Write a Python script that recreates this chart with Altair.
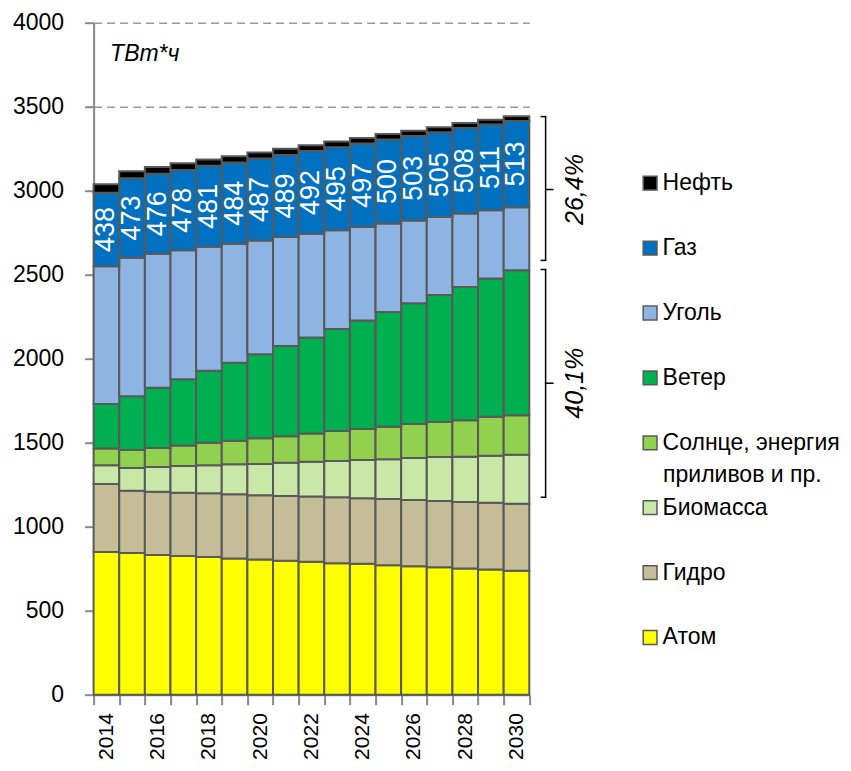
import altair as alt
import pandas as pd

years = list(range(2014, 2031))
atom = [850, 844, 832, 826, 820, 810, 804, 798, 792, 783, 779, 771, 765, 759, 751, 745, 737]
hydro = [404, 370, 376, 376, 379, 383, 383, 385, 387, 392, 390, 394, 394, 394, 396, 398, 400]
biomass = [111, 135, 147, 159, 166, 178, 186, 198, 208, 216, 228, 236, 250, 262, 269, 279, 291]
solar = [101, 107, 113, 123, 135, 141, 153, 158, 168, 178, 184, 194, 202, 208, 218, 232, 236]
wind = [264, 321, 359, 393, 428, 464, 501, 537, 571, 608, 646, 683, 719, 756, 793, 824, 862]
coal = [820, 824, 798, 768, 739, 708, 677, 648, 618, 587, 557, 527, 493, 464, 438, 405, 376]
gas = [438, 473, 476, 478, 481, 484, 487, 489, 492, 495, 497, 500, 503, 505, 508, 511, 513]
oil = [50, 42, 40, 40, 38, 37, 36, 36, 35, 34, 33, 32, 31, 30, 30, 29, 28]

series_names = ["Атом", "Гидро", "Биомасса", "Солнце, энергия приливов и пр.",
                "Ветер", "Уголь", "Газ", "Нефть"]
series_values = [atom, hydro, biomass, solar, wind, coal, gas, oil]
series_colors = ["#FFFF00", "#C4BD97", "#C9E7A7", "#92D050",
                 "#00B050", "#8EB4E3", "#0070C0", "#000000"]

# bracket annotations (data units) and their labels
bracket_tops = [3441, 2531]
bracket_bottoms = [2585, 1175]
bracket_mids = [3007, 1854]
bracket_labels = ["26,4%", "40,1%"]

unit_label = "ТВт*ч"
solar_line1 = "Солнце, энергия"
solar_line2 = "приливов и пр."
FONT = "Liberation Sans, Arial, sans-serif"
FS = 23
LFS = 23

rows = []
for order, (name, vals) in enumerate(zip(series_names, series_values)):
    for y, v in zip(years, vals):
        rows.append({"year": str(y), "series": name, "value": v, "order": order})
df = pd.DataFrame(rows)

lab_rows = []
for i, y in enumerate(years):
    base = atom[i] + hydro[i] + biomass[i] + solar[i] + wind[i] + coal[i]
    lab_rows.append({"year": str(y), "mid": base + gas[i] / 2, "gas": gas[i]})
df_lab = pd.DataFrame(lab_rows)

df_br = pd.DataFrame({"top": bracket_tops, "bottom": bracket_bottoms,
                      "mid": bracket_mids, "label": bracket_labels})

legend_order = list(reversed(series_names))
legend_colors = list(reversed(series_colors))

x_enc = alt.X("year:N", scale=alt.Scale(paddingInner=0, paddingOuter=0),
              axis=alt.Axis(title=None, tickBand="extent", labelAngle=270,
                            labelExpr="parseInt(datum.label) % 2 == 0 ? datum.label : ''",
                            labelFontSize=21, labelFont=FONT, labelColor="#000",
                            labelPadding=8, tickSize=10, tickColor="#888", tickWidth=2,
                            domainColor="#888", domainWidth=2, grid=False))

y_scale = alt.Scale(domain=[0, 4000], nice=False)

bars = alt.Chart(df).mark_bar(stroke="#595959", strokeWidth=2).encode(
    x=x_enc,
    y=alt.Y("value:Q", stack="zero", scale=y_scale,
            axis=alt.Axis(values=list(range(0, 4001, 500)), format="d", title=unit_label,
                          titleAngle=0, titleX=16, titleY=31, titleAlign="left",
                          titleBaseline="middle", titleFontStyle="italic",
                          titleFontWeight="normal", titleFontSize=FS, titleFont=FONT,
                          titleColor="#000",
                          labelFontSize=FS, labelFont=FONT, labelColor="#000",
                          labelPadding=21, tickSize=9, tickColor="#888", tickWidth=2,
                          domainColor="#888", domainWidth=2,
                          grid=True, gridColor="#999", gridDash=[8, 5], gridWidth=1.5)),
    color=alt.Color("series:N",
                    scale=alt.Scale(domain=legend_order, range=legend_colors),
                    legend=alt.Legend(title=None, orient="none", legendX=545, legendY=149,
                                      symbolType="square", symbolSize=190,
                                      symbolStrokeColor="#595959", symbolStrokeWidth=1.5,
                                      labelFontSize=LFS, labelFont=FONT, labelColor="#000",
                                      labelLimit=320, labelOffset=1, rowPadding=40.9,
                                      padding=0,
                                      labelExpr=f"datum.label == '{series_names[3]}' ? '{solar_line1}' : datum.label")),
    order=alt.Order("order:Q", sort="ascending"),
)

labels = alt.Chart(df_lab).mark_text(angle=270, color="white", fontSize=27, font=FONT,
                                     align="center", baseline="middle").encode(
    x=alt.X("year:N"), y=alt.Y("mid:Q", scale=y_scale), text="gas:Q")

vline = alt.Chart(df_br).mark_rule(color="#000", strokeWidth=1.5).encode(
    x=alt.value(452), y=alt.Y("top:Q", scale=y_scale), y2="bottom:Q")
hook_top = alt.Chart(df_br).mark_rule(color="#000", strokeWidth=1.5).encode(
    x=alt.value(447), x2=alt.value(452.7), y=alt.Y("top:Q", scale=y_scale))
hook_bot = alt.Chart(df_br).mark_rule(color="#000", strokeWidth=1.5).encode(
    x=alt.value(447), x2=alt.value(452.7), y=alt.Y("bottom:Q", scale=y_scale))
mid_tick = alt.Chart(df_br).mark_rule(color="#000", strokeWidth=1.5).encode(
    x=alt.value(451.3), x2=alt.value(460), y=alt.Y("mid:Q", scale=y_scale))
pct = alt.Chart(df_br).mark_text(angle=270, fontSize=25, font=FONT, fontStyle="italic",
                                 color="#000", align="center", baseline="middle").encode(
    x=alt.value(481), y=alt.Y("mid:Q", scale=y_scale), text="label:N")

line2 = alt.Chart(pd.DataFrame({"t": [solar_line2]})).mark_text(
    fontSize=LFS, font=FONT, color="#000", align="left", baseline="middle").encode(
    x=alt.value(569.5), y=alt.value(452.5), text="t:N")

chart = alt.layer(bars, labels, vline, hook_top, hook_bot, mid_tick, pct, line2).properties(
    width=435.7, height=672,
    padding={"left": 85.6, "top": 14.7, "right": 313.7, "bottom": 68},
    autosize=alt.AutoSizeParams(type="none"),
).configure_view(stroke=None)

chart.save("out.html", embed_options={"renderer": "svg", "actions": False})
